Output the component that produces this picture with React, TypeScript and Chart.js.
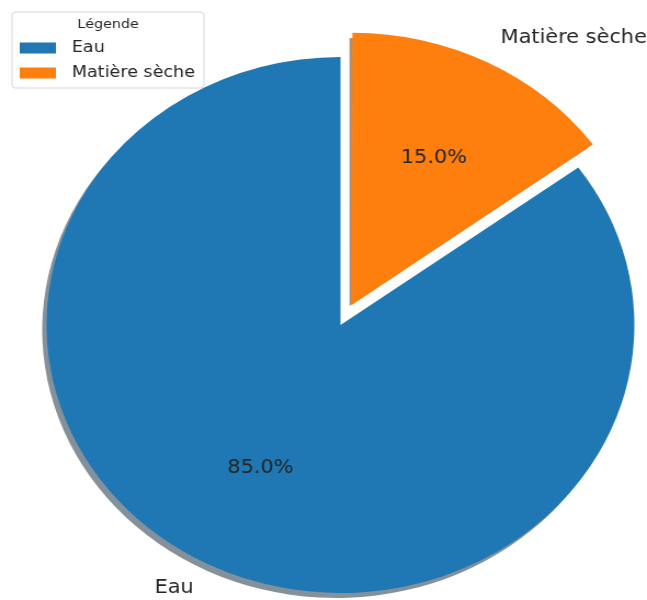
import React, { useEffect, useRef } from "react";
import { Chart, registerables } from "chart.js";

Chart.register(...registerables);

// ---- data ----
const categories = ["Eau", "Matière sèche"];
const values = [85, 15];
const colors = ["#1f77b4", "#ff7f0e"];
const shadowColors = ["rgba(9,36,54,0.5)", "rgba(77,38,4,0.5)"];
const explode = [0, 0.1];
const legendTitle = "Légende";

// ---- layout ----
const W = 590;
const H = 600;
const SX = 647 / W;
const R = 268;
const FONT = "'DejaVu Sans', sans-serif";
const TEXT = "#262626";

const total = values.reduce((a, b) => a + b, 0);

// Chart.js translates an arc by offset/4 * (1 + fix); invert that so the
// slice moves by explode * R like matplotlib.
const offsets = values.map((v, i) => {
  const circ = (2 * Math.PI * v) / total;
  const fix = 1 - Math.sin(Math.min(Math.PI, circ));
  return (explode[i] * R * 4) / (1 + fix);
});

function arcShift(arc: any) {
  const offset = (arc.options.offset || 0) / 4;
  const circ = arc.endAngle - arc.startAngle;
  const fix = 1 - Math.sin(Math.min(Math.PI, circ || 0));
  const t = offset * (1 + fix);
  const half = (arc.startAngle + arc.endAngle) / 2;
  return { dx: Math.cos(half) * t, dy: Math.sin(half) * t, half };
}

const shadowPlugin = {
  id: "mplShadow",
  beforeDatasetsDraw(chart: any) {
    const ctx = chart.ctx;
    const meta = chart.getDatasetMeta(0);
    meta.data.forEach((arc: any, i: number) => {
      const { dx, dy } = arcShift(arc);
      const cx = arc.x + dx - 4;
      const cy = arc.y + dy + 5;
      ctx.save();
      ctx.fillStyle = shadowColors[i];
      ctx.beginPath();
      ctx.moveTo(cx, cy);
      ctx.arc(cx, cy, arc.outerRadius, arc.startAngle, arc.endAngle);
      ctx.closePath();
      ctx.fill();
      ctx.restore();
    });
  },
};

const labelPlugin = {
  id: "mplLabels",
  afterDatasetsDraw(chart: any) {
    const ctx = chart.ctx;
    const meta = chart.getDatasetMeta(0);
    meta.data.forEach((arc: any, i: number) => {
      const { dx, dy, half } = arcShift(arc);
      const cx = arc.x + dx;
      const cy = arc.y + dy;
      const r = arc.outerRadius;
      const ux = Math.cos(half);
      const uy = Math.sin(half);
      ctx.save();
      ctx.fillStyle = TEXT;
      ctx.font = `19px ${FONT}`;
      ctx.textBaseline = "middle";
      // outside label
      ctx.textAlign = ux < 0 ? "right" : "left";
      ctx.fillText(categories[i], cx + 1.1 * r * ux, cy + 1.1 * r * uy);
      // percentage
      ctx.textAlign = "center";
      const pct = ((values[i] / total) * 100).toFixed(1) + "%";
      ctx.fillText(pct, cx + 0.6 * r * ux, cy + 0.6 * r * uy);
      ctx.restore();
    });
  },
};

const legendPlugin = {
  id: "mplLegend",
  afterDraw(chart: any) {
    const ctx = chart.ctx;
    const x0 = 11, y0 = 12, x1 = 186, y1 = 88, rad = 3;
    ctx.save();
    ctx.beginPath();
    ctx.moveTo(x0 + rad, y0);
    ctx.lineTo(x1 - rad, y0);
    ctx.arcTo(x1, y0, x1, y0 + rad, rad);
    ctx.lineTo(x1, y1 - rad);
    ctx.arcTo(x1, y1, x1 - rad, y1, rad);
    ctx.lineTo(x0 + rad, y1);
    ctx.arcTo(x0, y1, x0, y1 - rad, rad);
    ctx.lineTo(x0, y0 + rad);
    ctx.arcTo(x0, y0, x0 + rad, y0, rad);
    ctx.closePath();
    ctx.fillStyle = "rgba(255,255,255,0.8)";
    ctx.fill();
    ctx.strokeStyle = "#d6d6d6";
    ctx.lineWidth = 1;
    ctx.stroke();

    ctx.fillStyle = TEXT;
    ctx.font = `13px ${FONT}`;
    ctx.textAlign = "center";
    ctx.textBaseline = "middle";
    ctx.fillText(legendTitle, (x0 + x1) / 2, 25);

    const rows = [48, 73];
    categories.forEach((c, i) => {
      ctx.fillStyle = colors[i];
      ctx.fillRect(18, rows[i] - 5.5, 33, 11);
      ctx.fillStyle = TEXT;
      ctx.font = `16px ${FONT}`;
      ctx.textAlign = "left";
      ctx.fillText(c, 65.5, rows[i]);
    });
    ctx.restore();
  },
};

export default function App() {
  const ref = useRef<HTMLCanvasElement | null>(null);

  useEffect(() => {
    if (!ref.current) return;
    const chart = new Chart(ref.current, {
      type: "pie",
      data: {
        labels: categories,
        datasets: [
          {
            data: values,
            backgroundColor: colors,
            borderWidth: 0,
            offset: offsets,
          } as any,
        ],
      },
      options: {
        responsive: false,
        animation: false,
        devicePixelRatio: 1,
        rotation: 360 * (1 - values[0] / total),
        radius: R,
        layout: { padding: { left: 31, top: 50, right: 0, bottom: 0 } },
        plugins: {
          legend: { display: false },
          tooltip: { enabled: false },
        },
      } as any,
      plugins: [shadowPlugin, labelPlugin, legendPlugin],
    });
    return () => chart.destroy();
  }, []);

  return (
    <div
      style={{
        position: "fixed",
        left: 0,
        top: 0,
        width: 647,
        height: 600,
        overflow: "hidden",
        background: "#fff",
      }}
    >
      <div
        style={{
          width: W,
          height: H,
          transform: `scaleX(${SX})`,
          transformOrigin: "0 0",
        }}
      >
        <canvas ref={ref} width={W} height={H} />
      </div>
    </div>
  );
}
